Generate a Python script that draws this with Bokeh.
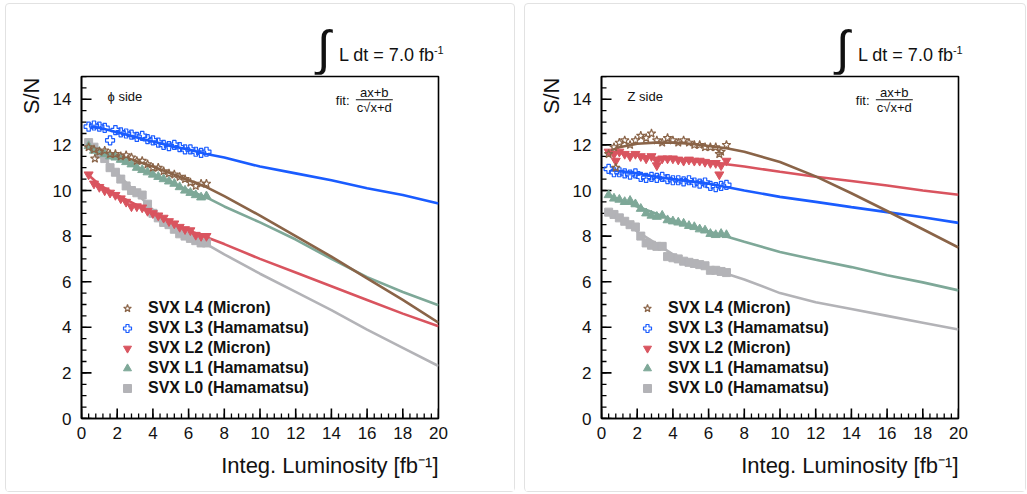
from bokeh.plotting import figure
from bokeh.models import (Range1d, Label, Legend, LegendItem, FixedTicker, Arrow, Title, Div)
from bokeh.layouts import row, column
from bokeh.embed import file_html
from bokeh.resources import INLINE

# ---------------- data ----------------
data_x = [0.4, 0.7, 1.0, 1.3, 1.6, 1.9, 2.2, 2.5, 2.8, 3.1, 3.4, 3.7, 4.0,
          4.3, 4.6, 4.9, 5.2, 5.5, 5.8, 6.1, 6.4, 6.7, 7.0]
fit_x = [0.5, 1, 2, 3, 4, 5, 6, 7, 8, 10, 12, 14, 16, 18, 20]

# phi side
phi_L4 = [11.9, 11.8, 11.7, 11.75, 11.6, 11.6, 11.5, 11.55, 11.45, 11.3, 11.3, 11.15, 11.0,
          11.0, 10.85, 10.75, 10.7, 10.6, 10.5, 10.35, 10.2, 10.3, 10.3]
phi_L3 = [12.8, 12.85, 12.8, 12.75, 12.2, 12.65, 12.55, 12.5, 12.45, 12.35, 12.4, 12.25, 12.2,
          12.1, 12.0, 11.95, 12.0, 11.9, 11.8, 11.8, 11.7, 11.65, 11.7]
phi_L2 = [10.7, 10.3, 10.15, 10.0, 9.9, 9.8, 9.65, 9.5, 9.3, 9.3, 9.25, 9.1, 9.0,
          8.9, 8.8, 8.65, 8.55, 8.4, 8.3, 8.25, 8.05, 8.0, 8.0]
phi_L1 = [11.95, 11.75, 11.7, 11.6, 11.5, 11.45, 11.35, 11.25, 11.15, 11.0, 10.9, 10.8, 10.7,
          10.6, 10.5, 10.4, 10.3, 10.15, 10.0, 9.9, 9.8, 9.7, 9.75]
phi_L0 = [12.1, 11.9, 11.6, 11.4, 11.0, 10.8, 10.5, 10.2, 10.0, 9.9, 9.8, 9.4, 9.0,
          8.8, 8.6, 8.5, 8.3, 8.1, 8.0, 7.9, 7.8, 7.7, 7.7]

phi_L4_fit = [11.85, 11.75, 11.55, 11.3, 11.05, 10.75, 10.45, 10.15, 9.75, 8.9, 8.0, 7.1, 6.15, 5.2, 4.2]
phi_L3_fit = [12.8, 12.75, 12.55, 12.35, 12.15, 11.95, 11.8, 11.6, 11.45, 11.05, 10.75, 10.45, 10.1, 9.8, 9.43]
phi_L2_fit = [10.6, 10.25, 9.8, 9.4, 9.0, 8.6, 8.25, 7.95, 7.65, 7.0, 6.4, 5.8, 5.2, 4.6, 4.05]
phi_L1_fit = [11.9, 11.75, 11.4, 11.05, 10.7, 10.35, 10.0, 9.7, 9.3, 8.6, 7.85, 7.0, 6.2, 5.55, 4.97]
phi_L0_fit = [12.0, 11.6, 10.75, 9.95, 9.15, 8.55, 8.05, 7.65, 7.2, 6.35, 5.55, 4.75, 3.9, 3.1, 2.3]

# Z side
z_L4 = [11.6, 11.9, 12.1, 12.2, 12.0, 12.2, 12.4, 12.3, 12.5, 12.2, 12.1, 12.3, 12.2,
        12.1, 12.2, 12.1, 12.0, 12.0, 11.9, 11.9, 11.9, 11.7, 12.0]
z_L3 = [10.95, 10.8, 10.8, 10.75, 10.7, 10.75, 10.6, 10.55, 10.6, 10.55, 10.6, 10.5, 10.45,
        10.45, 10.4, 10.45, 10.35, 10.3, 10.35, 10.2, 10.15, 10.2, 10.25]
z_L2 = [11.7, 11.6, 11.7, 11.6, 11.5, 11.6, 11.5, 11.4, 11.5, 11.3, 11.4, 11.4, 11.4,
        11.35, 11.3, 11.35, 11.3, 11.3, 11.25, 11.2, 11.2, 11.1, 11.3]
z_L1 = [9.8, 9.65, 9.6, 9.5, 9.55, 9.4, 9.2, 9.0, 8.9, 8.85, 8.9, 8.7, 8.65,
        8.6, 8.55, 8.45, 8.4, 8.3, 8.25, 8.1, 8.05, 8.1, 8.05]
z_L0 = [9.05, 8.95, 8.8, 8.65, 8.5, 8.4, 8.0, 7.7, 7.6, 7.55, 7.55, 7.1, 7.05,
        7.0, 6.9, 6.85, 6.8, 6.75, 6.7, 6.5, 6.5, 6.45, 6.4]

z_L4_fit = [11.75, 11.9, 12.05, 12.1, 12.1, 12.05, 11.95, 11.85, 11.7, 11.25, 10.62, 9.88, 9.1, 8.3, 7.5]
z_L3_fit = [10.9, 10.85, 10.75, 10.6, 10.5, 10.4, 10.3, 10.15, 10.0, 9.72, 9.5, 9.27, 9.05, 8.83, 8.58]
z_L2_fit = [11.7, 11.65, 11.55, 11.45, 11.4, 11.3, 11.25, 11.15, 11.05, 10.82, 10.6, 10.42, 10.22, 10.0, 9.81]
z_L1_fit = [9.75, 9.6, 9.3, 9.0, 8.7, 8.45, 8.2, 7.98, 7.75, 7.3, 6.96, 6.64, 6.28, 5.97, 5.62]
z_L0_fit = [9.0, 8.8, 8.2, 7.7, 7.2, 6.85, 6.6, 6.35, 6.1, 5.5, 5.1, 4.8, 4.5, 4.2, 3.9]

# a few isolated points
phi_L4_extra_x, phi_L4_extra_y = [0.75], [11.4]
z_L4_extra_x, z_L4_extra_y = [0.8, 6.6], [11.0, 11.6]
z_L2_extra_x, z_L2_extra_y = [0.8, 3.1, 6.6], [11.3, 11.1, 10.7]

labels = ["SVX L4 (Micron)", "SVX L3 (Hamamatsu)", "SVX L2 (Micron)",
          "SVX L1 (Hamamatsu)", "SVX L0 (Hamamatsu)"]
x_ticks = [0, 2, 4, 6, 8, 10, 12, 14, 16, 18, 20]
y_ticks = [0, 2, 4, 6, 8, 10, 12, 14]
x_minor_step = 0.4
y_minor_step = 0.5

colors = ["#8a6448", "#1a5cff", "#d9545f", "#7ea898", "#b3b3b7"]
markers = ["star", "plus", "inverted_triangle", "triangle", "square"]
FONT = "Liberation Sans"
TXT = "#111111"

XMAX, YMAX = 20, 15
FW, FH = 357, 342
HEAD_H = 70
CARD = {"border": "1px solid #e2e2e2", "border-radius": "4px", "background-color": "white"}


def header_div(width):
    html = (
        '<div style="position:relative;width:%dpx;height:%dpx;font-family:\'Liberation Sans\';'
        'color:#111111;">'
        '<span style="position:absolute;left:311px;top:20px;font-size:49px;line-height:49px;">&#8747;</span>'
        '<span style="position:absolute;left:333px;top:42px;font-size:18px;line-height:18px;'
        'white-space:nowrap;">L dt = 7.0 fb<sup style="font-size:11px;line-height:0;">-1</sup></span>'
        '</div>' % (width, HEAD_H))
    return Div(text=html, width=width, height=HEAD_H, margin=0)


def make_panel(side_text, series, fits, extras, border_left, border_right):
    p = figure(frame_width=FW, frame_height=FH,
               min_border_left=border_left, min_border_right=border_right,
               min_border_top=72 - HEAD_H, min_border_bottom=73,
               x_range=Range1d(0, XMAX), y_range=Range1d(0, YMAX),
               output_backend="svg", toolbar_location=None, margin=0)
    p.xgrid.visible = False
    p.ygrid.visible = False
    p.outline_line_color = "black"
    p.outline_line_width = 1.6
    p.background_fill_color = "white"
    p.border_fill_color = "white"

    for ax, ticks in ((p.xaxis[0], x_ticks), (p.yaxis[0], y_ticks)):
        ax.ticker = FixedTicker(ticks=ticks)
        ax.axis_line_color = "black"
        ax.axis_line_width = 1.6
        ax.major_tick_in = 0
        ax.major_tick_out = 0
        ax.minor_tick_in = 0
        ax.minor_tick_out = 0
        ax.major_label_text_font = FONT
        ax.major_label_text_font_size = "17px"
        ax.major_label_text_color = TXT
    p.xaxis.major_label_standoff = 8
    p.yaxis.major_label_standoff = 10

    # inward tick marks (ROOT style), derived from the tick lists
    xpx = XMAX / FW
    ypx = YMAX / FH
    xminor = [i * x_minor_step for i in range(int(XMAX / x_minor_step) + 1)]
    yminor = [i * y_minor_step for i in range(int(YMAX / y_minor_step) + 1)]
    p.segment(x0=xminor, y0=[0] * len(xminor), x1=xminor, y1=[5 * ypx] * len(xminor),
              line_color="black", line_width=1.3)
    p.segment(x0=x_ticks, y0=[0] * len(x_ticks), x1=x_ticks, y1=[10 * ypx] * len(x_ticks),
              line_color="black", line_width=1.6)
    p.segment(x0=[0] * len(yminor), y0=yminor, x1=[5 * xpx] * len(yminor), y1=yminor,
              line_color="black", line_width=1.3)
    p.segment(x0=[0] * len(y_ticks), y0=y_ticks, x1=[10 * xpx] * len(y_ticks), y1=y_ticks,
              line_color="black", line_width=1.6)

    # fit curves first, then data markers on top
    for i in range(4, -1, -1):
        p.line(fit_x, fits[i], line_color=colors[i], line_width=2.6)
    renderers = [None] * 5
    for i in range(4, -1, -1):
        xs = list(data_x) + extras.get(i, ([], []))[0]
        ys = list(series[i]) + extras.get(i, ([], []))[1]
        if markers[i] in ("star", "plus"):
            r = p.scatter(xs, ys, marker=markers[i], size=9, fill_alpha=0,
                          line_color=colors[i], line_width=1.2)
        else:
            r = p.scatter(xs, ys, marker=markers[i], size=9 if markers[i] != "square" else 8,
                          fill_color=colors[i], line_color=colors[i], line_width=1)
        renderers[i] = r

    legend = Legend(items=[LegendItem(label=labels[i], renderers=[renderers[i]]) for i in range(5)],
                    location=(33, 20), padding=0, margin=0, spacing=0,
                    glyph_width=26, glyph_height=20, label_height=20, label_standoff=8,
                    label_text_font=FONT, label_text_font_size="16px",
                    label_text_font_style="bold", label_text_color=TXT,
                    border_line_alpha=0, background_fill_alpha=0)
    p.add_layout(legend)

    # texts inside the frame
    p.add_layout(Label(x=1.46, y=14.12, text=side_text, text_font=FONT, text_font_size="13px",
                       text_baseline="middle", text_color=TXT))
    p.add_layout(Label(x=14.25, y=13.95, text="fit:", text_font=FONT, text_font_size="13px",
                       text_baseline="middle", text_color=TXT))
    p.add_layout(Label(x=16.4, y=14.3, text="ax+b", text_font=FONT, text_font_size="13px",
                       text_baseline="middle", text_align="center", text_color=TXT))
    p.add_layout(Label(x=16.4, y=13.62, text="c\u221ax+d", text_font=FONT, text_font_size="13px",
                       text_baseline="middle", text_align="center", text_color=TXT))
    p.add_layout(Arrow(start=None, end=None, x_start=15.37, y_start=13.98, x_end=17.44, y_end=13.98,
                       line_width=1, line_color=TXT))

    p.add_layout(Title(text="Integ. Luminosity [fb\u207b\u00b9]", align="right",
                       text_font=FONT, text_font_size="22px", text_font_style="normal",
                       text_color=TXT, standoff=18), "below")
    p.add_layout(Title(text="S/N", align="right", text_font=FONT, text_font_size="22px",
                       text_font_style="normal", text_color=TXT, standoff=12, offset=1), "left")
    return p


phi_series = [phi_L4, phi_L3, phi_L2, phi_L1, phi_L0]
phi_fits = [phi_L4_fit, phi_L3_fit, phi_L2_fit, phi_L1_fit, phi_L0_fit]
z_series = [z_L4, z_L3, z_L2, z_L1, z_L0]
z_fits = [z_L4_fit, z_L3_fit, z_L2_fit, z_L1_fit, z_L0_fit]

p1 = make_panel("\u03d5 side", phi_series, phi_fits,
                {0: (phi_L4_extra_x, phi_L4_extra_y)}, 75, 76)
p2 = make_panel("Z side", z_series, z_fits,
                {0: (z_L4_extra_x, z_L4_extra_y), 2: (z_L2_extra_x, z_L2_extra_y)}, 76, 67)

card1 = column(header_div(508), p1, margin=(3, 0, 0, 5), spacing=0, styles=CARD)
card2 = column(header_div(500), p2, margin=(3, 0, 0, 9), spacing=0, styles=CARD)
layout = row(card1, card2, spacing=0, margin=0)
open("out.html", "w").write(file_html(layout, INLINE))
